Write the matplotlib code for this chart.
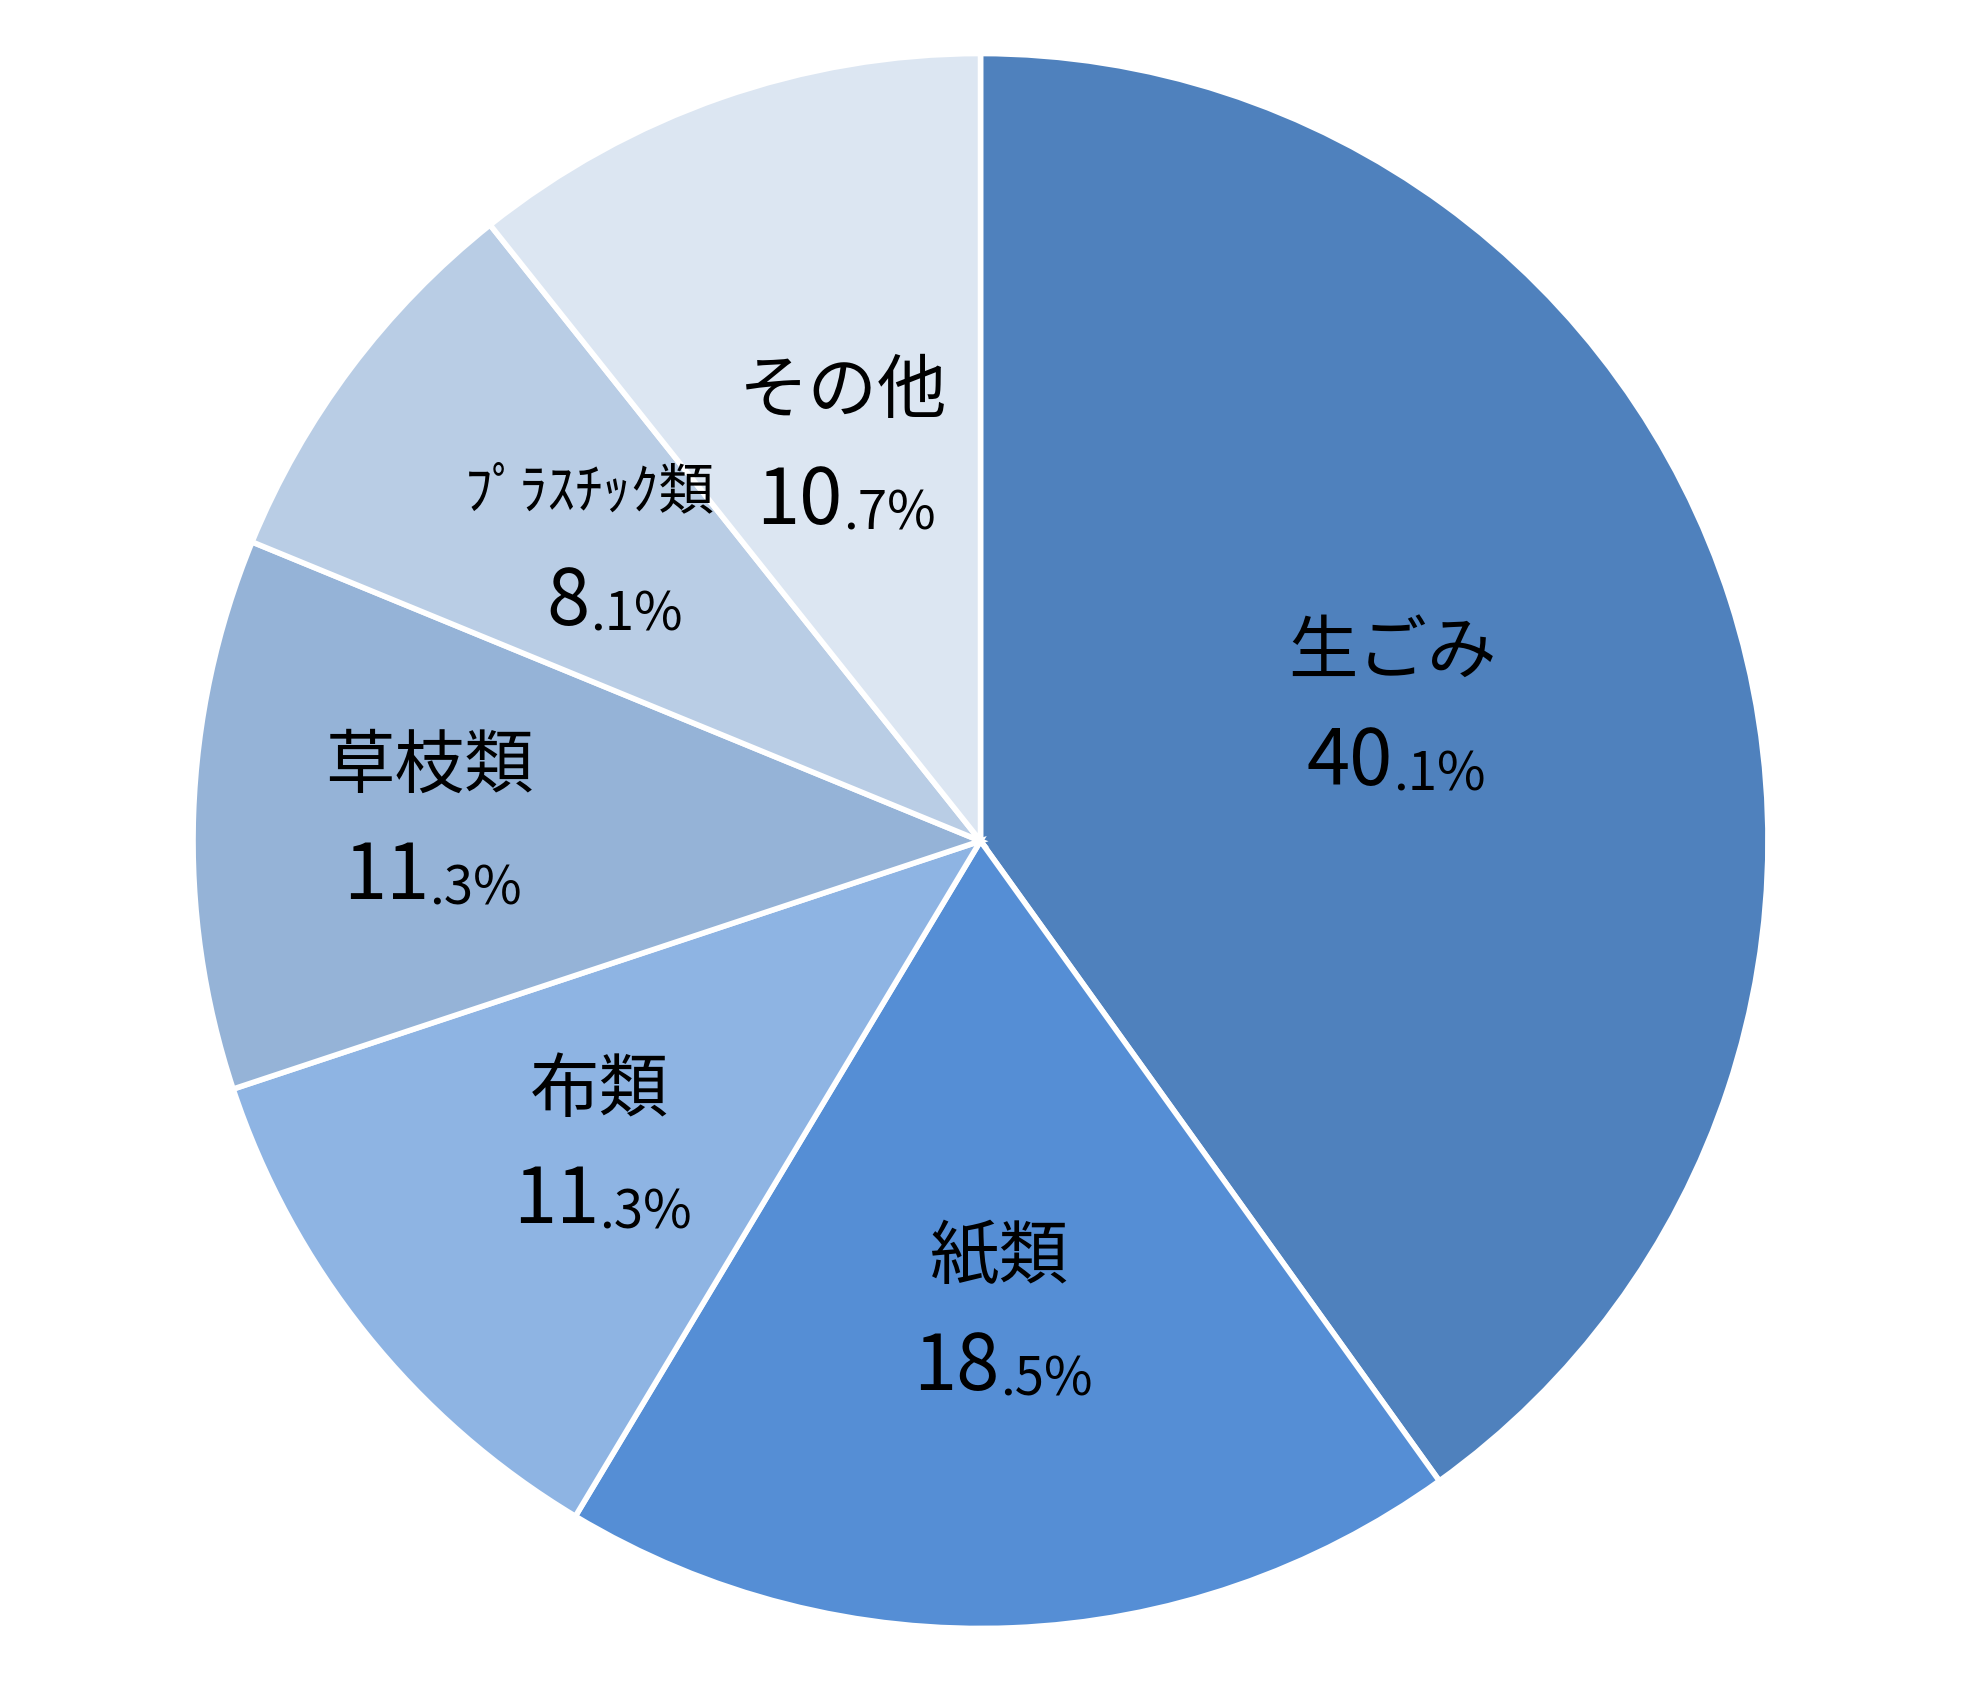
import matplotlib
matplotlib.use("Agg")
import matplotlib.pyplot as plt
import numpy as np

plt.rcParams['font.family'] = ['Noto Sans CJK JP', 'DejaVu Sans']

labels = ['生ごみ', '紙類', '布類', '草枝類', 'ﾌﾟﾗｽﾁｯｸ類', 'その他']
values = [40.1, 18.5, 11.3, 11.3, 8.1, 10.7]
colors = ['#4F81BD', '#558ED5', '#8EB4E3', '#95B3D7', '#B9CDE5', '#DCE6F2']
label_r = [0.55, 0.6, 0.62, 0.7, 0.62, 0.53]

fig = plt.figure(figsize=(19.61, 16.82), dpi=100)
ax = fig.add_axes([0, 0, 1, 1])
wedges, _ = ax.pie(values, colors=colors, startangle=90, counterclock=False,
                   radius=1.0, wedgeprops=dict(edgecolor='white', linewidth=4))
ax.set_aspect('equal')
ax.set_ylim(-1.068, 1.068)
ax.set_xlim(-1.245, 1.245)
ax.axis('off')

for w, lab, v, r in zip(wedges, labels, values, label_r):
    ang = np.deg2rad((w.theta1 + w.theta2) / 2)
    x, y = r * np.cos(ang), r * np.sin(ang)
    fs = 40 if lab.startswith('ﾌ') else 50
    ax.text(x, y + 0.07, lab, ha='center', va='center', fontsize=fs)
    s = f"{v:.1f}"
    ip, dp = s.split('.')
    ax.text(x, y - 0.07, ip, ha='right', va='center', fontsize=56)
    ax.text(x, y - 0.085, '.' + dp + '%', ha='left', va='center', fontsize=38)

fig.savefig('out.png', dpi=100, facecolor='white')
